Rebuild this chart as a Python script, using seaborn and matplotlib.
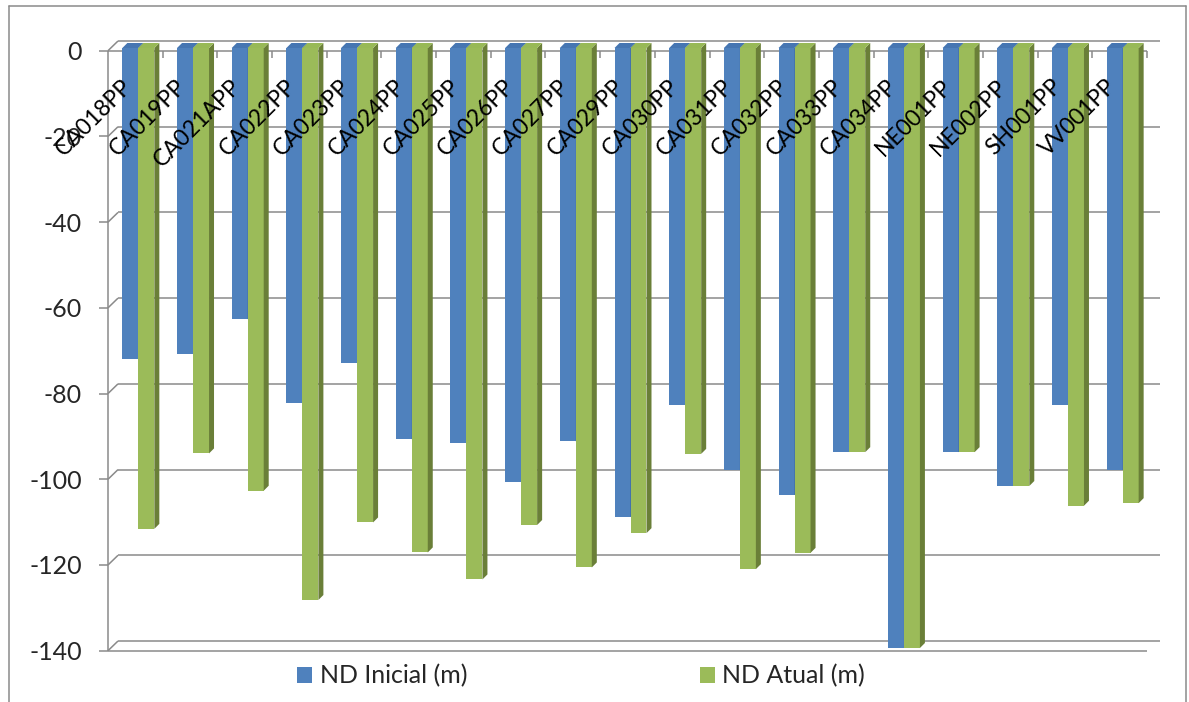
import numpy as np
import pandas as pd
import matplotlib
matplotlib.use("Agg")
import matplotlib.pyplot as plt
import matplotlib.transforms as mtransforms
from matplotlib.patches import Polygon
from matplotlib.lines import Line2D
import seaborn as sns

# Wells and water levels (m)
wells = ["CA018PP", "CA019PP", "CA021APP", "CA022PP", "CA023PP", "CA024PP",
         "CA025PP", "CA026PP", "CA027PP", "CA029PP", "CA030PP", "CA031PP",
         "CA032PP", "CA033PP", "CA034PP", "NE001PP", "NE002PP", "SH001PP",
         "VV001PP"]
nd_inicial = [-72.6, -71.5, -63.3, -82.8, -73.6, -91.3, -92.2, -101.3, -91.8,
              -109.4, -83.3, -98.5, -104.3, -94.3, -140.0, -94.3, -102.2,
              -83.3, -98.5]
nd_atual = [-112.2, -94.6, -103.3, -128.8, -110.7, -117.7, -124.0, -111.3,
            -121.2, -113.2, -94.7, -121.6, -117.8, -94.3, -140.0, -94.3,
            -102.2, -106.8, -106.2]
series_names = ["ND Inicial (m)", "ND Atual (m)"]
y_ticks = [0, -20, -40, -60, -80, -100, -120, -140]

sns.set_theme(style="white")
FAMILY = ["Lato", "Liberation Sans", "DejaVu Sans"]
plt.rcParams["font.family"] = FAMILY

BLUE, GREEN = "#4F81BD", "#9BBB59"
SIDE = {BLUE: "#3B6598", GREEN: "#6A7F38"}
TOP = {BLUE: "#4676B2", GREEN: "#98B957"}
GRID = "#8A8A8A"
LW = 1.1

# text sizes (pt)
YTICK_PT = 18.0
CAT_PT = 16.5
LEG_PT = 18.0

W, H = 1189, 702
fig = plt.figure(figsize=(W / 100, H / 100), dpi=100)
fig.patch.set_facecolor("white")


def fx(px):
    return px / W


def fy(py):
    return 1 - py / H


ax = fig.add_axes([fx(111), fy(648), (1150 - 111) / W, 600 / H])

df = pd.DataFrame({
    "Poço": wells * 2,
    "Nível (m)": nd_inicial + nd_atual,
    "Série": [series_names[0]] * len(wells) + [series_names[1]] * len(wells),
})
sns.barplot(data=df, x="Poço", y="Nível (m)", hue="Série", order=wells,
            hue_order=series_names, palette=[BLUE, GREEN], width=0.585,
            saturation=1, errorbar=None, linewidth=0, ax=ax)

n = len(wells)
ax.set_xlim(-0.5, n - 0.5)
ax.set_ylim(y_ticks[-1], 0)
for s in ax.spines.values():
    s.set_visible(False)
ax.grid(False)
ax.set_xlabel("")
ax.set_ylabel("")
ax.set_xticks(range(n))
ax.set_xticklabels([""] * n)
ax.tick_params(axis="x", length=0)

# pixel -> data unit scale of the axes
pos = ax.get_position()
ppx_x = pos.width * W / n
ppx_y = pos.height * H / abs(y_ticks[-1])


def off(px, py):
    return px / ppx_x, py / ppx_y


Fx, Fy = off(-3, -2.7)   # front plane
Bx, By = off(7, 7)       # back wall
Dx, Dy = off(5, 5)       # bar depth
x0, x1 = -0.5, n - 0.5
ymin = y_ticks[-1]
ext, _ = off(3, 0)

line_kw = dict(color=GRID, lw=LW, clip_on=False, solid_capstyle="butt")

# back wall gridlines with diagonal stubs to the side wall
tx, _ = off(9, 0)
for v in y_ticks:
    ax.plot([x0 + Bx, x1 + Bx + ext], [v + By, v + By], zorder=0.5, **line_kw)
    ax.plot([x0 + Fx, x0 + Bx], [v + Fy, v + By], zorder=0.5, **line_kw)
    ax.plot([x0 + Fx - tx, x0 + Fx], [v + Fy, v + Fy], zorder=0.5, **line_kw)

# value axis, category axis and floor edge
ax.plot([x0 + Fx, x0 + Fx], [Fy, ymin + Fy], zorder=0.6, **line_kw)
ax.plot([x0 + Fx, x1 + Fx], [Fy, Fy], zorder=0.6, **line_kw)
ax.plot([x0 + Fx, x1 + Fx], [ymin + Fy, ymin + Fy], zorder=0.6, **line_kw)
_, tk = off(0, 7)
for b in np.arange(0.5, n, 1.0):
    ax.plot([b + Fx, b + Fx], [Fy, Fy - tk], zorder=0.6, **line_kw)

# 3D faces on each bar
for k, cont in enumerate(ax.containers):
    base_z = 2 + k
    color = BLUE if k == 0 else GREEN
    for p in cont.patches:
        p.set_zorder(base_z)
        p.set_clip_on(False)
        xa = p.get_x()
        xb = xa + p.get_width()
        ya, yb = p.get_y(), p.get_y() + p.get_height()
        top, bot = max(ya, yb), min(ya, yb)
        ax.add_patch(Polygon([(xb, top), (xb + Dx, top + Dy),
                              (xb + Dx, bot + Dy), (xb, bot)],
                             closed=True, facecolor=SIDE[color],
                             edgecolor="none", zorder=base_z + 0.1,
                             clip_on=False))
        ax.add_patch(Polygon([(xa, top), (xa + Dx, top + Dy),
                              (xb + Dx, top + Dy), (xb, top)],
                             closed=True, facecolor=TOP[color],
                             edgecolor="none", zorder=base_z + 0.1,
                             clip_on=False))

# value tick labels, nudged to the front plane
ax.set_yticks(y_ticks)
ax.set_yticklabels([str(v) for v in y_ticks])
ax.tick_params(axis="y", length=0, pad=29 * 0.72, labelsize=YTICK_PT)
shift = mtransforms.ScaledTranslation(0, -2.7 / 100, fig.dpi_scale_trans)
for lab in ax.get_yticklabels():
    lab.set_transform(lab.get_transform() + shift)

# rotated category labels inside the plot
lx, _ = off(-10, 0)
_, ly = off(0, -35)
for i, name in enumerate(wells):
    ax.text(i + lx, ly, name, rotation=45, rotation_mode="anchor",
            ha="right", va="center", fontsize=CAT_PT, color="black",
            zorder=10, clip_on=False)

# legend below the plot
leg_px = LEG_PT / 0.72
sq = 15
sns.move_legend(ax, loc="center left", bbox_to_anchor=(fx(297), fy(676)),
                bbox_transform=fig.transFigure, ncol=2, frameon=False,
                title=None, handlelength=sq / leg_px, handleheight=sq / leg_px,
                handletextpad=8 / leg_px, columnspacing=232 / leg_px,
                borderpad=0, borderaxespad=0,
                prop={"family": FAMILY, "size": LEG_PT})

# outer chart border
for (xa, ya), (xb, yb) in [((9, 6), (1186, 6)), ((9, 6), (9, 710)),
                           ((1186, 6), (1186, 710))]:
    fig.add_artist(Line2D([fx(xa), fx(xb)], [fy(ya), fy(yb)], color=GRID,
                          lw=1.1, transform=fig.transFigure))

fig.savefig("out.png", dpi=100, facecolor="white")
